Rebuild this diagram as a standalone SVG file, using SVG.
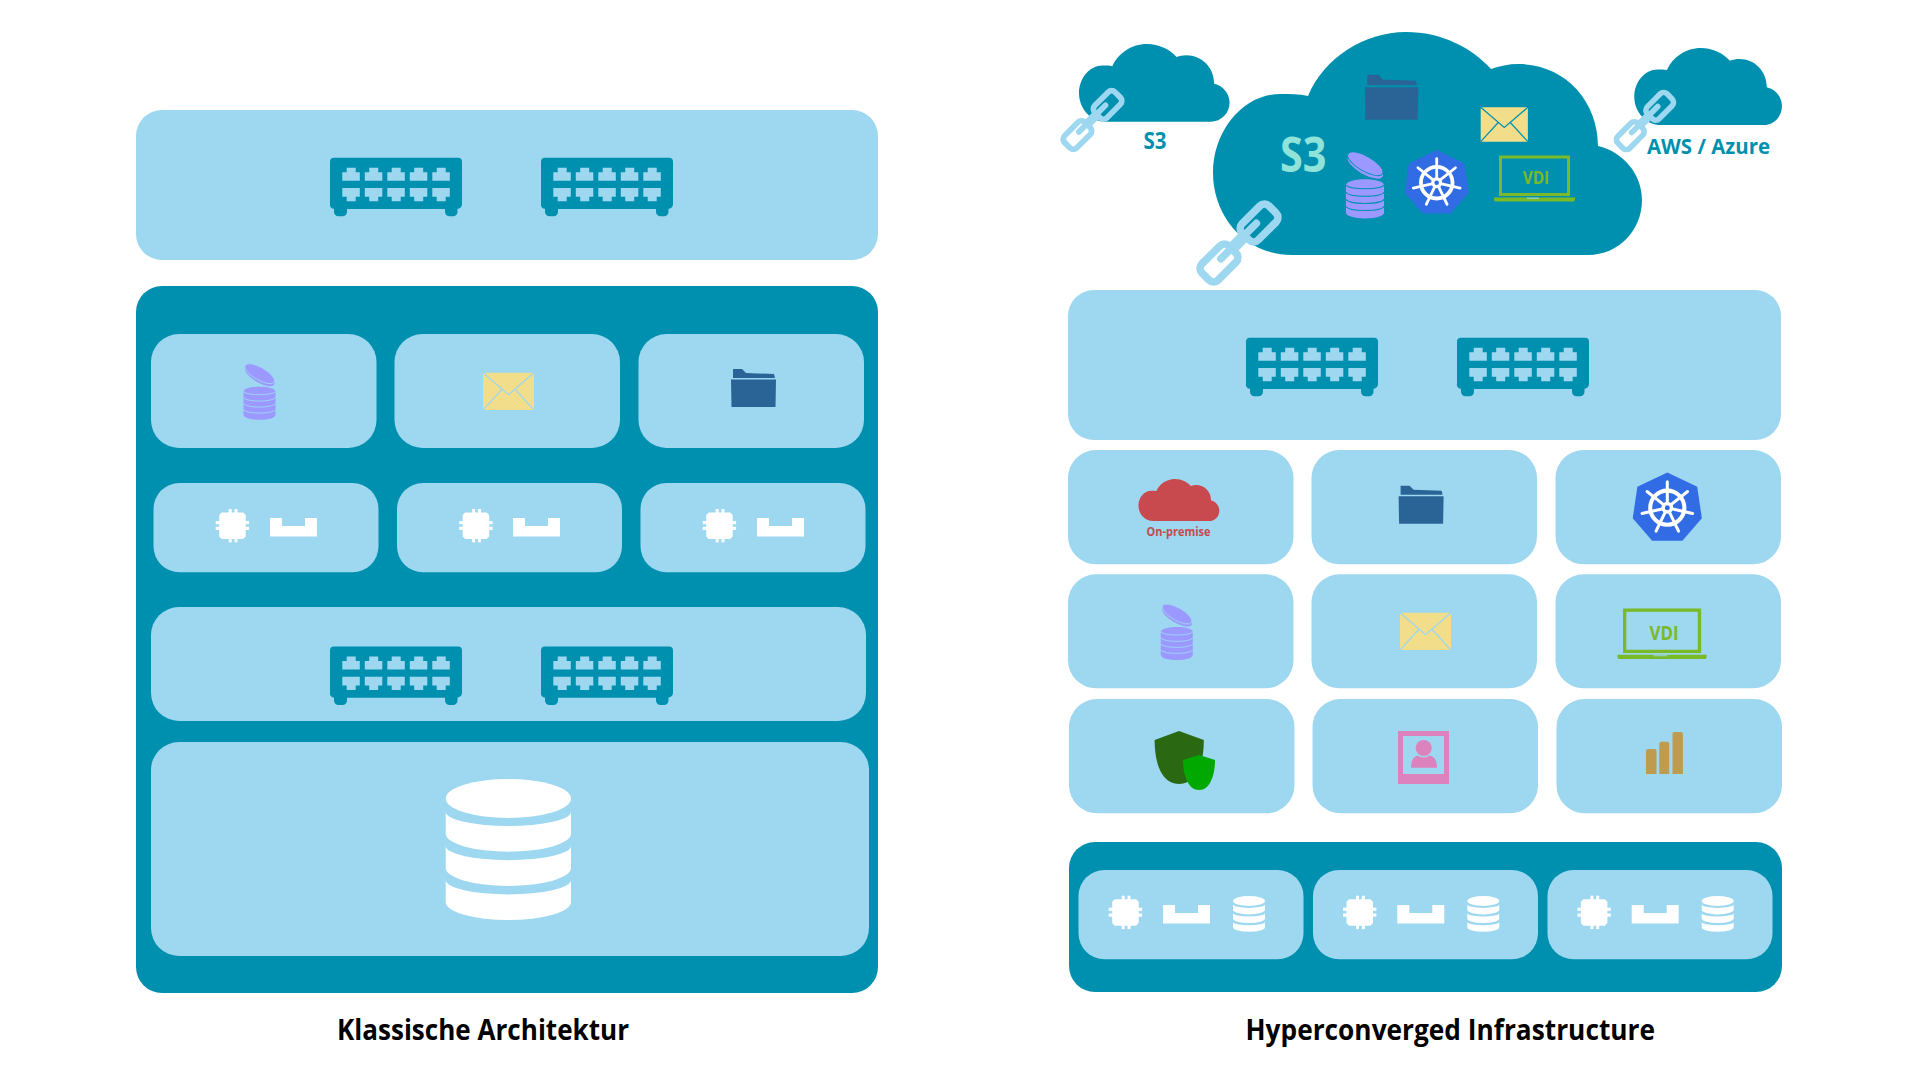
<svg xmlns="http://www.w3.org/2000/svg" xmlns:xlink="http://www.w3.org/1999/xlink" width="1920" height="1080" viewBox="0 0 1920 1080">
<style>
.t{fill:#9dd7f0}
.d{fill:#0090af}
.w{fill:#fff}
text{font-family:"Open Sans","Noto Sans",sans-serif;font-weight:700}
.title{font-size:29px;fill:#000}
.teal{fill:#0090af}
</style>
<defs>
<path id="cloud" d="M1293 255C1245 255 1214 215 1214 173C1214 130 1245 94 1281 94C1291 94 1300 94 1309 96C1325 58 1365 32 1407 32C1443 32 1473 48 1492 69C1500 66 1510 64 1519 64C1565 64 1599 100 1599 146C1625 152 1643 175 1643 200C1643 230 1620 255 1589 255Z"/>
<g id="switch">
<path class="d" d="M4 0H128a4 4 0 0 1 4 4V46a5 5 0 0 1-4 5H127.500V54a4.500 4.500 0 0 1-4.500 4.500H119.500a4.500 4.500 0 0 1-4.500-4.500V51.300H17V54a4.500 4.500 0 0 1-4.500 4.500H8.500A4.500 4.500 0 0 1 4 54V51H4a4 4 0 0 1-4-5V4a4 4 0 0 1 4-4Z"/>
<g class="t">
<path id="pu" d="M12.300 23V14.500H16.700V10H25.700V14.500H29.800V23Z"/>
<path id="pd" d="M12.300 30.300H29.800V39H25.700V43.600H16.700V39H12.300Z"/>
<use href="#pu" x="22.500"/><use href="#pu" x="45"/><use href="#pu" x="67.500"/><use href="#pu" x="90"/>
<use href="#pd" x="22.500"/><use href="#pd" x="45"/><use href="#pd" x="67.500"/><use href="#pd" x="90"/>
</g>
</g>
<g id="chip" class="w">
<path d="M6 3.500H27.400L30 6V27.400L27.400 30H6L3.500 27.400V6Z"/>
<rect x="0" y="12" width="33.400" height="3.200"/><rect x="0" y="17.800" width="33.400" height="3.200"/>
<rect x="13" y="0" width="3" height="33.400"/><rect x="18.800" y="0" width="3" height="33.400"/>
</g>
<path id="ram" class="w" d="M0 0H12V8H35V0H47V18.500H0Z"/>
<g id="db" class="w">
<ellipse cx="62.650" cy="19.500" rx="62.650" ry="19.500"/>
<path id="dbs" d="M0 32.700A62.650 14.300 0 0 0 125.300 32.700V54.700A62.650 18 0 0 1 0 54.700Z"/>
<use href="#dbs" y="34.200"/><use href="#dbs" y="68.400"/>
</g>
<g id="stack">
<ellipse cx="16.200" cy="11.500" rx="16.800" ry="6.300" transform="rotate(30 16.200 11.500)" fill="#9b99ff"/>
<ellipse cx="16.200" cy="9" rx="16.800" ry="6.300" transform="rotate(30 16.200 9)" fill="#9b99ff" stroke="currentColor" stroke-width=".8"/>
<path fill="#9b99ff" d="M0 27C0 24 7 22 16 22S32 24 32 27V50C32 53 25 55 16 55S0 53 0 50Z"/>
<path fill="none" stroke="currentColor" stroke-width=".9" d="M0 27C3 31 29 31 32 27M0 33C3 37.500 29 37.500 32 33M0 39C3 43.500 29 43.500 32 39M0 45C3 49.500 29 49.500 32 45"/>
</g>
<g id="env">
<rect width="51" height="37.400" rx="1.500" fill="#f2dd8a"/>
<path fill="none" stroke="currentColor" stroke-width="1.300" d="M0 0L25.500 22L51 0M0 37.400L19 16.500M51 37.400L32 16.500"/>
</g>
<g id="folder" fill="#2a6496">
<path d="M2 0H11L15 4L43 5L44 9H2Z"/>
<path d="M0 10.500H45L44.500 38H.5Z"/>
</g>
<g id="k8s">
<path fill="#326ce5" d="M0-32.700L27.700-19.300L32 9.700L14 30.700H-14L-32 9.700L-27.700-19.300Z"/>
<g fill="none" stroke="#fff">
<circle r="15.800" stroke-width="3.800"/>
<g stroke-width="2.800" stroke-linecap="round">
<path id="sp" d="M0-3V-24"/>
<use href="#sp" transform="rotate(51.400)"/><use href="#sp" transform="rotate(102.900)"/><use href="#sp" transform="rotate(154.300)"/><use href="#sp" transform="rotate(205.700)"/><use href="#sp" transform="rotate(257.100)"/><use href="#sp" transform="rotate(308.600)"/>
</g>
</g>
<circle r="5.500" fill="#fff"/><circle r="2.300" fill="#326ce5"/>
</g>
<g id="chain" fill="none" stroke="#9dd7f0" stroke-width="7" stroke-linecap="round">
<g transform="rotate(-45)">
<rect x="8.500" y="-10.500" width="35" height="21" rx="6"/>
<rect x="-43.500" y="-10.500" width="35" height="21" rx="6"/>
<path d="M-22-1.500H24"/>
<rect x="-8" y="-6.500" width="16" height="11" fill="#9dd7f0" stroke="none"/>
</g>
</g>
<g id="laptop">
<rect x="6.500" y="1.500" width="68" height="37.500" fill="none" stroke="#7ab928" stroke-width="3"/>
<path fill="#7ab928" d="M0 42H81V44.500L80 46H1L0 44.500Z"/>
<rect x="33" y="42" width="12" height="1.500" fill="#9dd7f0" opacity=".7"/>
</g>
<rect id="tile3" class="t" width="225" height="89.300" rx="26"/>
</defs>

<g id="connectors"></g>

<g id="left-top-panel">
<rect class="t" x="136" y="110" width="742" height="150" rx="26"/>
<use href="#switch" x="330" y="157.700"/><use href="#switch" x="541" y="157.700"/>
</g>
<g id="left-body">
<rect class="d" x="136" y="286" width="742" height="707" rx="26"/>
</g>
<g id="left-storage-tile">
<rect class="t" x="151" y="334" width="225.500" height="114" rx="28"/>
<use href="#stack" transform="translate(243.500 364.700)" color="#9dd7f0"/>
</g>
<g id="left-mail-tile">
<rect class="t" x="394.500" y="334" width="225.500" height="114" rx="28"/>
<use href="#env" transform="translate(483 372.700)" color="#9dd7f0"/>
</g>
<g id="left-folder-tile">
<rect class="t" x="638.500" y="334" width="225.500" height="114" rx="28"/>
<use href="#folder" transform="translate(731 369)"/>
</g>
<g id="left-compute-1">
<use href="#tile3" x="153.500" y="483"/><use href="#chip" x="215.700" y="509"/><use href="#ram" x="270" y="518"/>
</g>
<g id="left-compute-2">
<use href="#tile3" x="397" y="483"/><use href="#chip" x="459.200" y="509"/><use href="#ram" x="513" y="518"/>
</g>
<g id="left-compute-3">
<use href="#tile3" x="640.500" y="483"/><use href="#chip" x="702.700" y="509"/><use href="#ram" x="757" y="518"/>
</g>
<g id="left-network">
<rect class="t" x="151" y="607" width="715" height="114" rx="28"/>
<use href="#switch" x="330" y="646.500"/><use href="#switch" x="541" y="646.500"/>
</g>
<g id="left-storage">
<rect class="t" x="151" y="742" width="718" height="214" rx="28"/>
<use href="#db" transform="translate(445.700 779)"/>
</g>
<text id="title-left" class="title" x="337" y="1040" textLength="292" lengthAdjust="spacingAndGlyphs">Klassische Architektur</text>

<g id="cloud-s3">
<use href="#cloud" class="d" transform="translate(-1 0)"/>
<text x="1280" y="171.500" font-size="49" fill="#8fe3d8" textLength="46.500" lengthAdjust="spacingAndGlyphs">S3</text>
<use href="#folder" transform="translate(1365 74.700) scale(1.185)"/>
<use href="#env" transform="translate(1480.700 107.300) scale(.925 .92)" color="#0090af"/>
<use href="#stack" transform="translate(1346 153) scale(1.190)" color="#0090af"/>
<use href="#k8s" transform="translate(1436.700 182.700)"/>
<use href="#laptop" x="1494" y="155.500"/>
<text x="1522.700" y="184" font-size="18.500" fill="#7ab928" textLength="26.500" lengthAdjust="spacingAndGlyphs">VDI</text>
</g>
<g id="cloud-small-left">
<use href="#cloud" class="d" transform="translate(652.900 32.850) scale(.351 .3485)"/>
<text x="1143.500" y="149" font-size="23" class="teal" textLength="23" lengthAdjust="spacingAndGlyphs">S3</text>
</g>
<g id="cloud-small-right">
<use href="#cloud" class="d" transform="translate(1216.300 36.950) scale(.3443 .3453)"/>
<text x="1647" y="153.800" font-size="22" class="teal" textLength="123" lengthAdjust="spacingAndGlyphs">AWS / Azure</text>
</g>
<g id="chain-links">
<use href="#chain" transform="translate(1239 243) scale(1.090)"/>
<use href="#chain" transform="translate(1092.500 120) scale(.82)"/>
<use href="#chain" transform="translate(1645 121) scale(.8)"/>
</g>

<g id="right-network">
<rect class="t" x="1068" y="290" width="713" height="150" rx="26"/>
<use href="#switch" x="1246" y="337.700"/><use href="#switch" x="1457" y="337.700"/>
</g>
<g id="tile-onprem">
<rect class="t" x="1068" y="450" width="225.500" height="114.300" rx="28"/>
<use href="#cloud" fill="#c8494e" transform="translate(909.500 473) scale(.1886 .1883)"/>
<text x="1146.500" y="536" font-size="11.500" fill="#c8494e" textLength="64" lengthAdjust="spacingAndGlyphs">On-premise</text>
</g>
<g id="tile-folder">
<rect class="t" x="1311.500" y="450" width="225.500" height="114.300" rx="28"/>
<use href="#folder" transform="translate(1398.600 485.700)"/>
</g>
<g id="tile-k8s">
<rect class="t" x="1555.500" y="450" width="225.500" height="114.300" rx="28"/>
<use href="#k8s" transform="translate(1667.300 507.700) scale(1.080)"/>
</g>
<g id="tile-storage">
<rect class="t" x="1068" y="574.300" width="225.500" height="114" rx="28"/>
<use href="#stack" transform="translate(1160.800 605)" color="#9dd7f0"/>
</g>
<g id="tile-mail">
<rect class="t" x="1311.500" y="574.300" width="225.500" height="114" rx="28"/>
<use href="#env" transform="translate(1400 612.700)" color="#9dd7f0"/>
</g>
<g id="tile-vdi">
<rect class="t" x="1555.500" y="574.300" width="225.500" height="114" rx="28"/>
<use href="#laptop" transform="translate(1617.500 608.500) scale(1.100)"/>
<text x="1649.500" y="640" font-size="20" fill="#7ab928" textLength="29" lengthAdjust="spacingAndGlyphs">VDI</text>
</g>
<g id="tile-security">
<rect class="t" x="1069" y="699" width="225.500" height="114.300" rx="28"/>
<path fill="#2a6912" d="M1179 731L1203.800 740C1204 760 1198 784 1179 784C1160 784 1154.600 760 1154.600 740Z"/>
<path fill="#00a800" d="M1199 755L1215 760C1215 775 1210 790 1199 790C1188 790 1183 775 1183 760Z"/>
</g>
<g id="tile-user" transform="translate(-1 0)">
<rect class="t" x="1313.500" y="699" width="225.500" height="114.300" rx="28"/>
<rect x="1399" y="731" width="51" height="53" fill="#dc82bc"/>
<rect class="t" x="1404" y="736" width="41" height="38"/>
<ellipse cx="1424.700" cy="748" rx="8" ry="8" fill="#dc82bc"/>
<path fill="#dc82bc" d="M1412 767.700C1412 761 1414 757 1418.500 755.500C1422 758 1427 758 1431 755.500C1436 757 1438 761 1438 767.700Z"/>
</g>
<g id="tile-analytics" transform="translate(-1.500 0)">
<rect class="t" x="1558" y="699" width="225.500" height="114.300" rx="28"/>
<g fill="#bd9b4f">
<path d="M1647.500 774V751a2 2 0 0 1 2-2H1656a2 2 0 0 1 2 2V774Z"/>
<path d="M1660.800 774V743.700a2 2 0 0 1 2-2H1668.700a2 2 0 0 1 2 2V774Z"/>
<path d="M1674 774V734a2 2 0 0 1 2-2H1682.400a2 2 0 0 1 2 2V774Z"/>
</g>
</g>
<g id="right-hci">
<rect class="d" x="1069" y="842" width="713" height="150" rx="26"/>
</g>
<g id="hci-node-1">
<use href="#tile3" x="1078.500" y="870"/><use href="#chip" x="1108.700" y="895.700"/><use href="#ram" x="1163" y="905"/>
<use href="#db" transform="translate(1233 896) scale(.255 .2535)"/>
</g>
<g id="hci-node-2">
<use href="#tile3" x="1313" y="870"/><use href="#chip" x="1343" y="895.700"/><use href="#ram" x="1397.300" y="905"/>
<use href="#db" transform="translate(1467.300 896) scale(.255 .2535)"/>
</g>
<g id="hci-node-3">
<use href="#tile3" x="1547.500" y="870"/><use href="#chip" x="1577.400" y="895.700"/><use href="#ram" x="1631.700" y="905"/>
<use href="#db" transform="translate(1701.700 896) scale(.255 .2535)"/>
</g>
<text id="title-right" class="title" x="1245.500" y="1040" textLength="409.500" lengthAdjust="spacingAndGlyphs">Hyperconverged Infrastructure</text>
</svg>
